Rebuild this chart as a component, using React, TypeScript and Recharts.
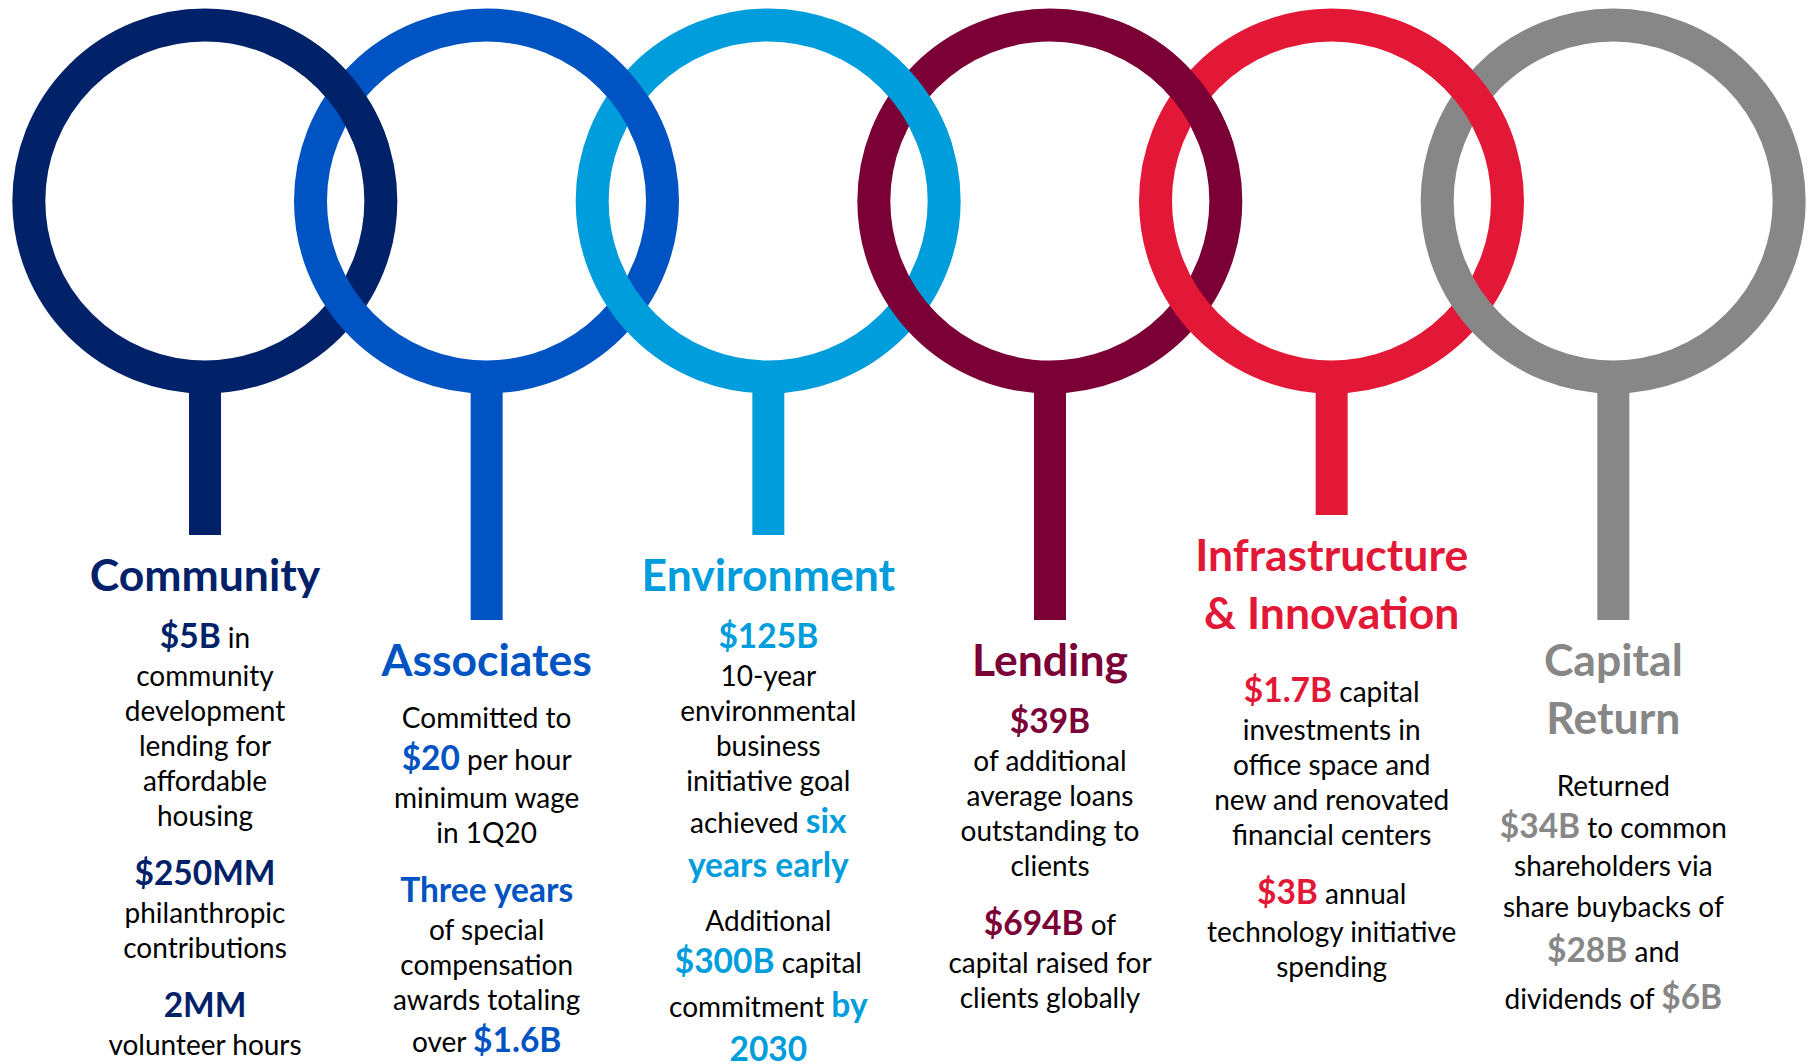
import { Bar, ComposedChart, Scatter, XAxis, YAxis } from 'recharts';

const WIDTH = 1815;
const HEIGHT = 1064;
const FONT = 'Lato, "Noto Sans", sans-serif';

// one pillar per ring
const pillars = ['Community', 'Associates', 'Environment', 'Lending', 'Infrastructure & Innovation', 'Capital Return'];
const ringCenters = [201, 201, 201, 201, 201, 201];
const ringRadius = [176, 176, 176, 176, 176, 176];
const stemEnds = [535, 620, 535, 620, 515, 620];
const colors = ['#012169', '#0053C2', '#009DDC', '#7A0036', '#E31837', '#878787'];

type Line = { t: string; title?: boolean; gap?: number };

// **text** marks the coloured bold figures
const communityText: Line[] = [
  { t: 'Community', title: true },
  { t: '**$5B** in' },
  { t: 'community' },
  { t: 'development' },
  { t: 'lending for' },
  { t: 'affordable' },
  { t: 'housing' },
  { t: '**$250MM**', gap: 17 },
  { t: 'philanthropic' },
  { t: 'contributions' },
  { t: '**2MM**', gap: 17 },
  { t: 'volunteer hours' },
];

const associatesText: Line[] = [
  { t: 'Associates', title: true },
  { t: 'Committed to' },
  { t: '**$20** per hour' },
  { t: 'minimum wage' },
  { t: 'in 1Q20' },
  { t: '**Three years**', gap: 17 },
  { t: 'of special' },
  { t: 'compensation' },
  { t: 'awards totaling' },
  { t: 'over **$1.6B**' },
];

const environmentText: Line[] = [
  { t: 'Environment', title: true },
  { t: '**$125B**' },
  { t: '10-year' },
  { t: 'environmental' },
  { t: 'business' },
  { t: 'initiative goal' },
  { t: 'achieved **six**' },
  { t: '**years early**' },
  { t: 'Additional', gap: 16 },
  { t: '**$300B** capital' },
  { t: 'commitment **by**' },
  { t: '**2030**' },
];

const lendingText: Line[] = [
  { t: 'Lending', title: true },
  { t: '**$39B**' },
  { t: 'of additional' },
  { t: 'average loans' },
  { t: 'outstanding to' },
  { t: 'clients' },
  { t: '**$694B** of', gap: 17 },
  { t: 'capital raised for' },
  { t: 'clients globally' },
];

const infrastructureText: Line[] = [
  { t: 'Infrastructure', title: true },
  { t: '& Innovation', title: true },
  { t: '**$1.7B** capital', gap: 16 },
  { t: 'investments in' },
  { t: 'office space and' },
  { t: 'new and renovated' },
  { t: 'financial centers' },
  { t: '**$3B** annual', gap: 17 },
  { t: 'technology initiative' },
  { t: 'spending' },
];

const capitalText: Line[] = [
  { t: 'Capital', title: true },
  { t: 'Return', title: true },
  { t: 'Returned', gap: 10 },
  { t: '**$34B** to common' },
  { t: 'shareholders via' },
  { t: 'share buybacks of', gap: 6 },
  { t: '**$28B** and', gap: 3 },
  { t: 'dividends of **$6B**', gap: 3 },
];

const blocks = [communityText, associatesText, environmentText, lendingText, infrastructureText, capitalText];

const rows = pillars.map((name, i) => ({
  name,
  i,
  center: ringCenters[i],
  radius: ringRadius[i],
  stem: [ringCenters[i] + ringRadius[i], stemEnds[i]],
}));

type Kind = 'title' | 'hl' | 'body';
const SIZE: Record<Kind, number> = { title: 44.5, hl: 33.5, body: 28 };
const ADVANCE: Record<Kind, Record<Kind, number>> = {
  title: { title: 58, hl: 57, body: 52 },
  hl: { title: 58, hl: 44, body: 38 },
  body: { title: 58, hl: 42, body: 35 },
};
const RING_WIDTH = 33;

function parseSegments(text: string) {
  return text
    .split('**')
    .map((s, i) => ({ s, hl: i % 2 === 1 }))
    .filter((p) => p.s.length > 0);
}

function layoutBlock(lines: Line[], startY: number) {
  let y = startY;
  let prev: Kind | null = null;
  return lines.map((line) => {
    const kind: Kind = line.title ? 'title' : line.t.includes('**') ? 'hl' : 'body';
    if (prev) y += ADVANCE[prev][kind] + (line.gap ?? 0);
    prev = kind;
    return { ...line, kind, y };
  });
}

function StemWithText(props: any) {
  const { x, y, width, height, payload } = props;
  const i = payload.i;
  const color = colors[i];
  const top = Math.min(y, y + height);
  const bottom = Math.max(y, y + height);
  const mid = x + width / 2;
  const lines = layoutBlock(blocks[i], bottom + 56);
  return (
    <g>
      <rect x={x} y={top} width={width} height={bottom - top} fill={color} />
      {lines.map((line, k) => (
        <text key={k} x={mid} y={line.y} textAnchor="middle" fontFamily={FONT} style={{ whiteSpace: 'pre' }}>
          {parseSegments(line.t).map((p, j) => {
            const strong = p.hl || line.kind === 'title';
            return (
              <tspan
                key={j}
                fill={strong ? color : '#000'}
                fontWeight={strong ? 700 : 400}
                fontSize={line.kind === 'title' ? SIZE.title : p.hl ? SIZE.hl : SIZE.body}
              >
                {p.s}
              </tspan>
            );
          })}
        </text>
      ))}
    </g>
  );
}

function Ring(props: any) {
  const { cx, cy, payload } = props;
  return <circle cx={cx} cy={cy} r={payload.radius} fill="none" stroke={colors[payload.i]} strokeWidth={RING_WIDTH} />;
}

// repaint the upper right arc so each ring passes over its right neighbour at the top
function RingWeave(props: any) {
  const { cx, cy, payload } = props;
  if (payload.i === pillars.length - 1) return <g />;
  const r = payload.radius;
  const id = `weave-${payload.i}`;
  return (
    <g>
      <defs>
        <clipPath id={id}>
          <rect x={cx + r * 0.35} y={cy - r - 30} width={r * 0.9} height={r * 0.85} />
        </clipPath>
      </defs>
      <circle
        cx={cx}
        cy={cy}
        r={r}
        fill="none"
        stroke={colors[payload.i]}
        strokeWidth={RING_WIDTH}
        clipPath={`url(#${id})`}
      />
    </g>
  );
}

export default function App() {
  return (
    <div style={{ position: 'absolute', left: 0, top: 0, width: WIDTH, height: HEIGHT, background: '#fff' }}>
      <ComposedChart
        width={WIDTH}
        height={HEIGHT}
        data={rows}
        margin={{ top: 0, right: 61, bottom: 0, left: 64 }}
      >
        <XAxis dataKey="name" type="category" hide />
        <YAxis type="number" domain={[0, HEIGHT]} reversed hide />
        <Bar dataKey="stem" barSize={32} shape={StemWithText} isAnimationActive={false} />
        <Scatter dataKey="center" shape={Ring} isAnimationActive={false} />
        <Scatter dataKey="center" shape={RingWeave} isAnimationActive={false} />
      </ComposedChart>
    </div>
  );
}
